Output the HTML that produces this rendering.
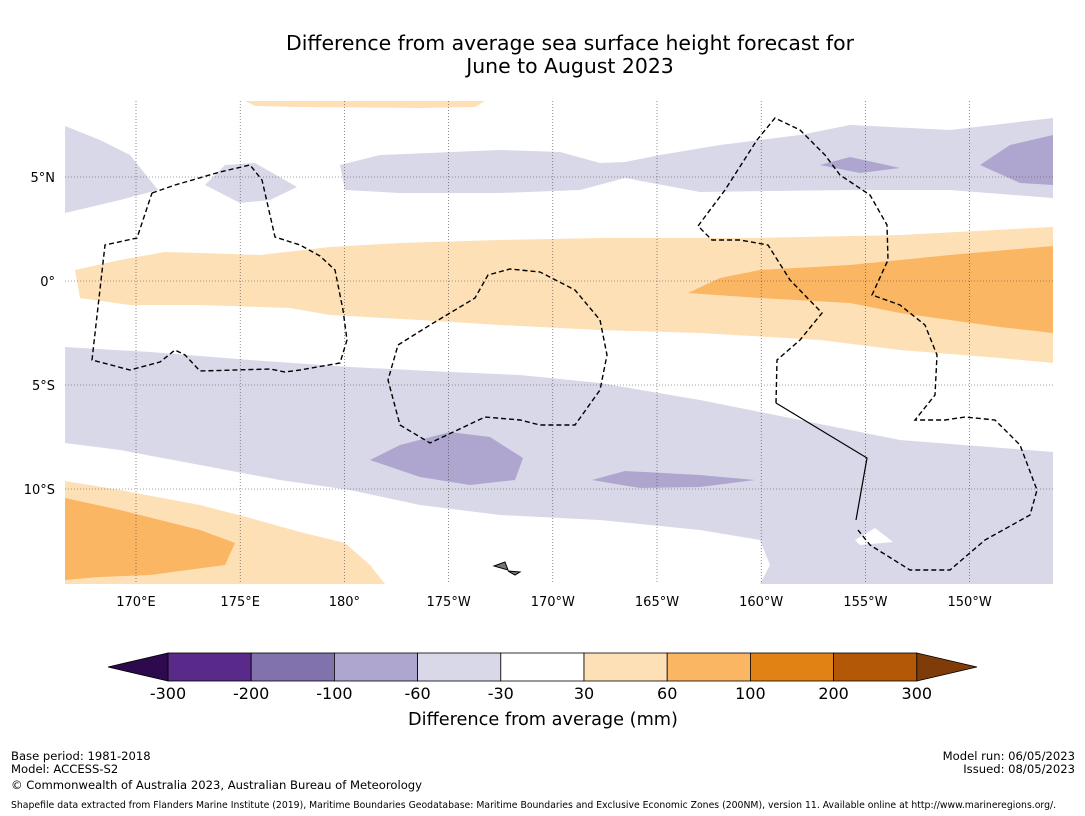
<!DOCTYPE html>
<html><head><meta charset="utf-8"><style>
body{margin:0;background:#fff;width:1085px;height:816px;overflow:hidden;font-family:"Liberation Sans",sans-serif;}
svg{position:absolute;left:0;top:0}
</style></head><body>
<svg width="1085" height="816" font-family="DejaVu Sans, Liberation Sans, sans-serif">
<text x="570" y="50" text-anchor="middle" font-size="20.4">Difference from average sea surface height forecast for</text>
<text x="570" y="73" text-anchor="middle" font-size="20.4">June to August 2023</text>
<clipPath id="mc"><rect x="65" y="101" width="988" height="483"/></clipPath>
<g clip-path="url(#mc)">
<g stroke="none">
<polygon fill="#d8d8e8" points="65,126 100,140 130,155 158,190 120,200 65,213"/>
<polygon fill="#d8d8e8" points="205,185 225,165 255,163 297,187 270,200 240,203"/>
<polygon fill="#d8d8e8" points="340,165 380,155 500,150 560,152 600,163 625,162 660,155 720,145 800,135 850,125 950,130 1053,118 1053,198 950,190 850,190 700,192 625,178 580,190 500,193 400,193 345,190"/>
<polygon fill="#aea6cf" points="820,165 850,157 900,168 860,173"/>
<polygon fill="#aea6cf" points="980,165 1010,145 1053,135 1053,185 1020,183"/>
<polygon fill="#fde0b6" points="245,101 485,101 475,107 420,108 300,107 255,106"/>
<polygon fill="#fde0b6" points="75,270 120,260 165,252 200,253 260,255 330,247 400,243 500,240 600,238 750,238 900,235 1053,227 1053,363 1000,358 900,350 820,340 700,333 600,330 500,325 420,320 330,315 290,308 200,305 130,305 80,298"/>
<polygon fill="#fab662" points="688,293 720,278 760,270 850,265 950,255 1053,246 1053,333 1000,327 900,313 850,303 760,298"/>
<polygon fill="#d8d8e8" points="65,347 150,352 250,360 350,367 450,372 520,375 600,383 700,400 800,420 900,440 1053,452 1053,584 760,584 770,565 760,540 700,530 600,520 500,515 420,505 350,490 280,480 200,465 120,450 65,443"/>
<polygon fill="#fff" points="855,540 875,528 893,542 860,545"/>
<polygon fill="#fff" points="700,584 720,580 750,582 755,584"/>
<polygon fill="#aea6cf" points="370,460 400,445 450,432 490,437 523,458 515,480 470,485 420,477"/>
<polygon fill="#aea6cf" points="592,480 625,471 700,475 755,480 700,487 640,488"/>
<polygon fill="#fde0b6" points="65,481 120,490 200,505 250,518 300,532 345,543 370,565 385,584 65,584"/>
<polygon fill="#fab662" points="65,498 120,510 200,530 235,543 225,565 150,575 100,577 65,580"/>
</g>
<g id="grid" stroke="#444" stroke-width="0.6" stroke-dasharray="1,2"></g>
<g fill="none" stroke="#000" stroke-width="1.4" stroke-dasharray="5,3">
<polyline points="152,193 175,185 220,172 250,165 262,180 275,237 300,245 320,256 335,270 343,310 347,340 340,363 300,370 285,372 270,369 200,371 185,355 175,350 160,362 130,370 92,360 105,245 137,238 152,193"/>
<polyline points="398,345 430,325 475,298 488,275 510,269 540,272 575,290 600,320 607,355 600,390 575,425 540,425 520,420 485,417 430,443 400,425 388,380 398,345"/>
<polyline points="776,403 777,360 800,340 822,313 790,280 768,245 740,240 712,240 698,226 725,190 757,140 775,118 800,130 825,155 840,175 870,195 887,225 888,260 872,295 900,305 925,325 937,355 935,395 915,420 945,420 965,417 995,420 1020,445 1037,490 1030,515 985,540 950,570 910,570 870,545 858,530"/>
</g>
<polyline fill="none" stroke="#000" stroke-width="1.2" points="776,403 867,458 856,520"/>
<g fill="#777" stroke="#000" stroke-width="1"><polygon points="494,566 505,562 508,570"/><polygon points="508,571 520,572 515,575"/></g>
</g>
<g id="ticks" font-size="13"></g>
<g id="cbar"></g>
<text x="543" y="725" text-anchor="middle" font-size="17.7">Difference from average (mm)</text>
<g font-size="11.6">
<text x="11" y="760">Base period: 1981-2018</text>
<text x="11" y="773">Model: ACCESS-S2</text>
<text x="11" y="789">© Commonwealth of Australia 2023, Australian Bureau of Meteorology</text>
<text x="1075" y="760" text-anchor="end">Model run: 06/05/2023</text>
<text x="1075" y="773" text-anchor="end">Issued: 08/05/2023</text>
<text x="11" y="808" font-size="9.3">Shapefile data extracted from Flanders Marine Institute (2019), Maritime Boundaries Geodatabase: Maritime Boundaries and Exclusive Economic Zones (200NM), version 11. Available online at http://www.marineregions.org/.</text>
</g>
</svg>
<script>
const lonTicks=[170,175,180,185,190,195,200,205,210];
const lonLabels=["170°E","175°E","180°","175°W","170°W","165°W","160°W","155°W","150°W"];
const latTicks=[5,0,-5,-10];
const latLabels=["5°N","0°","5°S","10°S"];
const cbBounds=["-300","-200","-100","-60","-30","30","60","100","200","300"];
const cbColors=["#5a2a8a","#8172ae","#aea6cf","#d8d8e8","#ffffff","#fde0b6","#fab662","#e08214","#b35806"];
const NS="http://www.w3.org/2000/svg";
const xS=l=>136+(l-170)*20.84, yS=t=>281-t*20.8;
const g=document.getElementById('grid'),tk=document.getElementById('ticks');
function mk(tag,a,p){const e=document.createElementNS(NS,tag);for(const k in a)e.setAttribute(k,a[k]);p.appendChild(e);return e;}
lonTicks.forEach((l,i)=>{const x=xS(l);
 const ln=mk('line',{x1:x,x2:x,y1:101,y2:584},g);
 
 
 const t=mk('text',{x:x,y:606,'text-anchor':'middle'},tk);t.textContent=lonLabels[i];
 
 });
latTicks.forEach((v,i)=>{const y=yS(v);
 const ln=mk('line',{x1:65,x2:1053,y1:y,y2:y},g);
 
 
 const t=mk('text',{x:55,y:y+5,'text-anchor':'end'},tk);t.textContent=latLabels[i];
 
 });
const cb=document.getElementById('cbar');const x0=168,w=83.2,y0=653,h=28;
cbColors.forEach((c,i)=>{const r=mk('rect',{x:x0+i*w,y:y0,width:w,height:h,fill:c,stroke:'#000','stroke-width':0.8},cb);
 
 });
const lt=mk('polygon',{points:`108,667 ${x0},${y0} ${x0},${y0+h}`,fill:'#2d0a4e',stroke:'#000','stroke-width':0.8},cb);


const xe=x0+cbColors.length*w;
const rt=mk('polygon',{points:`${xe},${y0} 977,667 ${xe},${y0+h}`,fill:'#7f3b08',stroke:'#000','stroke-width':0.8},cb);


cbBounds.forEach((b,i)=>{const t=mk('text',{x:x0+i*w,y:699,'text-anchor':'middle','font-size':16},cb);t.textContent=b;
 
 });
</script>
</body></html>
